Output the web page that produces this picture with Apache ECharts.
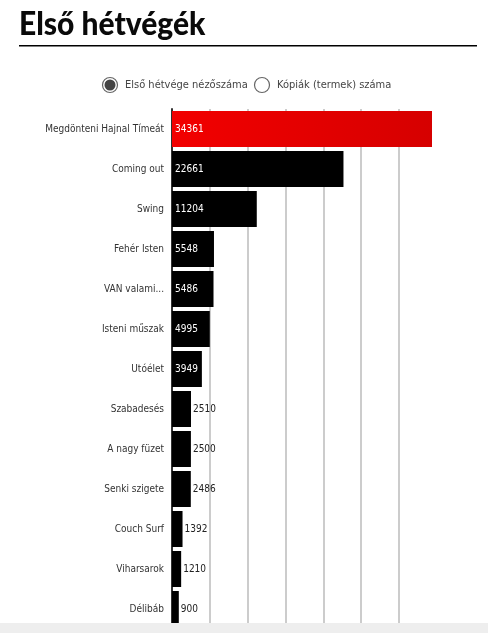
<!DOCTYPE html>
<html>
<head>
<meta charset="utf-8">
<script src="https://cdn.jsdelivr.net/npm/echarts@6/dist/echarts.min.js"></script>
<style>
html,body{margin:0;padding:0;background:#fff;}
#chart{width:488px;height:633px;}
</style>
</head>
<body>
<div id="chart"></div>
<script>
const titleText = 'Első hétvégék';
const legendNames = ['Első hétvége nézőszáma', 'Kópiák (termek) száma'];
const categories = ['Megdönteni Hajnal Tímeát','Coming out','Swing','Fehér Isten','VAN valami...','Isteni műszak','Utóélet','Szabadesés','A nagy füzet','Senki szigete','Couch Surf','Viharsarok','Délibáb'];
const viewers = [34361,22661,11204,5548,5486,4995,3949,2510,2500,2486,1392,1210,900];

const narrow = '"DejaVu Sans Condensed","Liberation Sans Narrow",sans-serif';
const maxV = Math.max.apply(null, viewers);
const barData = viewers.map(function(v, i){
  const inside = v >= 3000;
  return {
    value: v,
    itemStyle: { color: i === 0 ? new echarts.graphic.LinearGradient(0,0,1,0,[{offset:0,color:'#f20000'},{offset:1,color:'#d60000'}]) : '#000000' },
    label: {
      show: true,
      position: inside ? 'insideLeft' : 'right',
      distance: inside ? 3 : 2,
      color: inside ? '#ffffff' : '#222222'
    }
  };
});

const chart = echarts.init(document.getElementById('chart'), null, {renderer:'canvas'});
chart.setOption({
  animation: false,
  backgroundColor: '#ffffff',
  grid: { left: 172, right: 56, top: 109, bottom: 4, containLabel: false },
  xAxis: {
    type: 'value', min: 0, max: maxV, interval: 5000,
    axisLine: { show: false }, axisTick: { show: false }, axisLabel: { show: false },
    splitLine: { show: true, showMinLine: false, showMaxLine: false, lineStyle: { color: '#bbbbbb', width: 1.5 } }
  },
  yAxis: {
    type: 'category', data: categories, inverse: true,
    axisLine: { show: true, lineStyle: { color: '#333333', width: 2 } },
    axisTick: { show: false },
    axisLabel: { margin: 8, color: '#333333', fontFamily: narrow, fontSize: 10 }
  },
  series: [{
    type: 'bar', name: legendNames[0], data: barData,
    barWidth: '90%',
    label: { fontFamily: narrow, fontSize: 10 }
  }],
  graphic: [
    { type: 'text', x: 19, y: 9, scaleY: 1.06, style: { text: titleText, font: '900 30px Lato, "Open Sans", sans-serif', fill: '#0a0a0a' } },
    { type: 'rect', shape: { x: 19, y: 45, width: 458, height: 1.5 }, style: { fill: '#000000' } },
    { type: 'circle', shape: { cx: 110, cy: 85, r: 7.5 }, style: { fill: '#ffffff', stroke: '#666666', lineWidth: 1.2 } },
    { type: 'circle', shape: { cx: 110, cy: 85, r: 5.5 }, style: { fill: '#444444' } },
    { type: 'text', x: 125, y: 85, style: { text: legendNames[0], font: '11px ' + narrow, fill: '#444444', verticalAlign: 'middle' } },
    { type: 'circle', shape: { cx: 262, cy: 85, r: 7.5 }, style: { fill: '#ffffff', stroke: '#666666', lineWidth: 1.2 } },
    { type: 'text', x: 277, y: 85, style: { text: legendNames[1], font: '11px ' + narrow, fill: '#444444', verticalAlign: 'middle' } },
    { type: 'rect', z: 100, shape: { x: 0, y: 623, width: 488, height: 10 }, style: { fill: '#eeeeee' } }
  ]
});
</script>
</body>
</html>
